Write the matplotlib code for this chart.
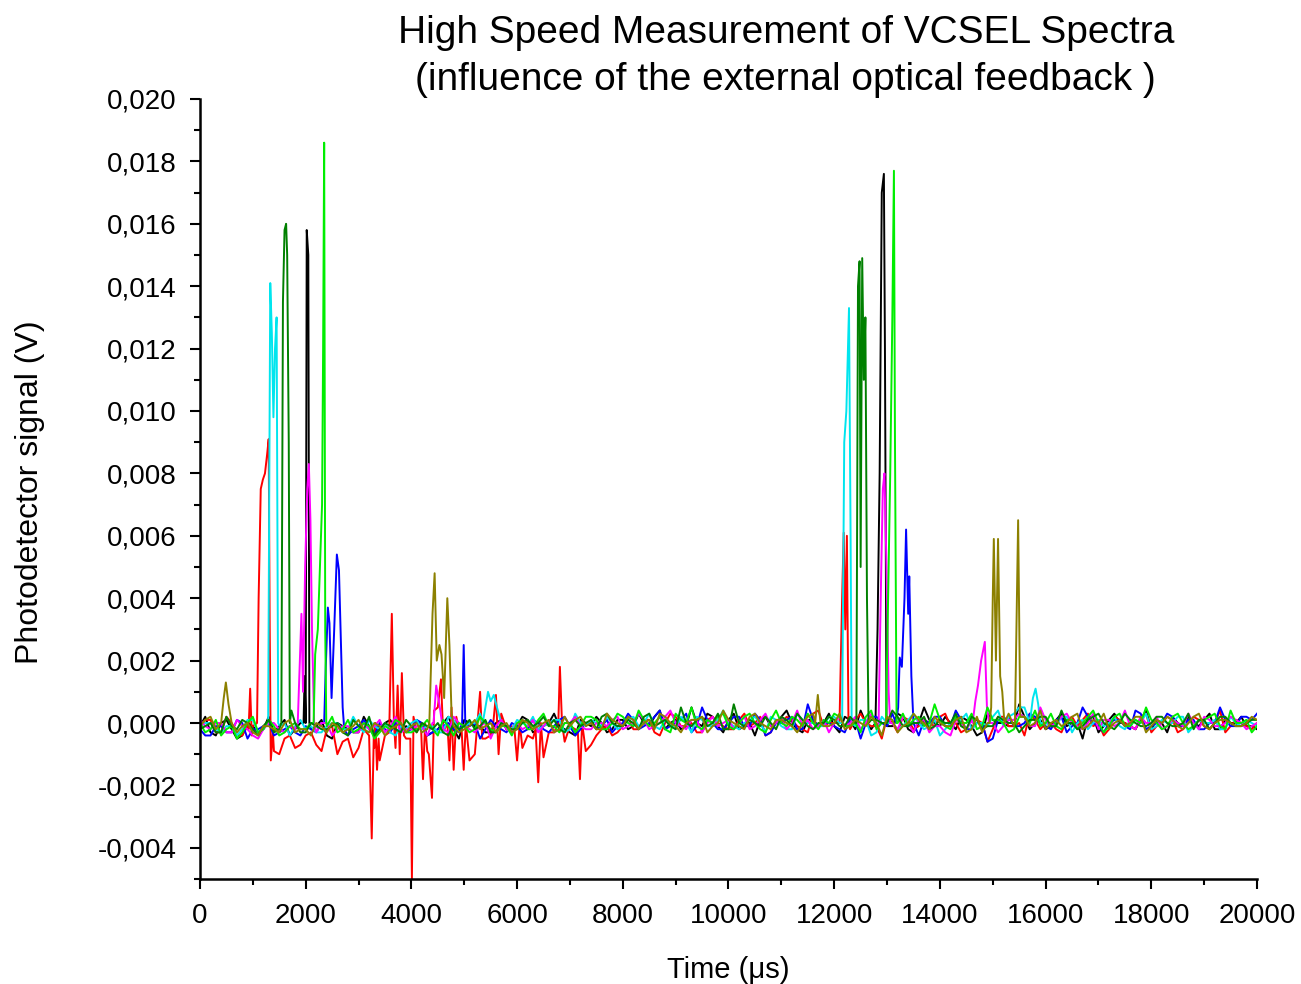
import numpy as np
import matplotlib.pyplot as plt
from matplotlib.ticker import MultipleLocator, FuncFormatter

plt.rcParams['font.family'] = ['Liberation Sans', 'DejaVu Sans']

# baseline noise of each trace, 1e-4 V
# *_even: samples at 0, 200, ... 20000 us ; *_odd: samples at 100, 300, ... 19900 us
black_even = [-1, -3, 0, -2, -4, -1, -2, -3, 1, -2,
              -3, -1, -4, 0, -2, -3, -1, -2, 1, -3,
              -2, -1, -3, 0, -2, 1, -1, -3, 0, -2,
              -1, 1, -2, 0, -1, -3, 1, -1, 0, -2,
              1, -1, 0, 2, -2, 1, -1, 0, 3, -1,
              1, -2, 0, 1, -1, 2, 0, -3, 1, 0,
              -1, 2, -2, 0, 1, -1, 3, -2, 0, 1,
              -1, 0, 2, -1, -3, 1, 0, -1, 2, 0,
              -2, 1, -1, 0, 2, -3, 1, 0, -1, 1,
              -2, 0, 2, -1, 0, 1, -2, 1, 0, -1,
              -2]
black_odd = [2, -4, 1, -5, 0, -3, 2, -1, -4, 0,
             -2, 1, -5, -1, -3, 2, -4, 0, -2, -1,
             1, -4, -2, 2, -5, 0, -1, -3, 1, -2,
             2, -3, -1, 3, -2, -4, 0, 2, -3, 1,
             -2, 3, -1, 4, 0, -2, 5, -1, 2, -3,
             3, -1, -4, 2, 0, 4, -2, 1, -1, 3,
             -3, 1, 4, -2, 0, -1, 2, -3, 5, 0,
             2, -2, 1, -4, 3, 0, -1, 6, -2, 1,
             -1, 3, 0, -5, 2, -1, 3, 0, -2, 4,
             1, -3, 0, 2, -1, 3, -2, 0, 2, -1]
red_even = [-2, 1, -3, 0, -4, -1,
            -3, -9, -5, -8, -4,
            -7, -2, -10, -5, -8, -3, -12, -6, -9, -4,
            -11, -6, -14, -8, -3, -10, -5, -7, -2, -9,
            -4, -8, -3, -6, -1, -5, -7, -2, -4, -1,
            -2, 1, -3, 0, 2, -1, -3, 1, 0, -2,
            1, -1, 2, -3, 0, 1, -2, 3, -1, 0,
            -2, 1, 0, -1, 2, -3, 1, -1, 0, 2,
            -1, -3, 1, 0, -2, 2, -1, -4, 1, 0,
            -2, 1, -1, 3, 0, -2, 1, -1, 2, -3,
            0, 1, -2, 2, -1, 0, -3, 1, -1, 0]
red_odd = [1, -3, 2, -4, -1, -6, -2, -10, -4, -7,
           -3, -9, -1, -6, -11, -2, -8, -4, -13, -5,
           -3, -9, -16, -6, -2, -12, -7, -4, -10, -1,
           -8, -5, -11, -3, -6, -2, -9, -4, -1, -3,
           2, -2, 1, -4, 3, -1, 0, -3, 2, -1,
           -2, 3, 0, -4, 1, 2, -1, -3, 4, 0,
           1, -2, 3, -1, -5, 0, 2, -2, 1, -1,
           3, 0, -2, 1, -6, 2, -1, 0, 3, -2,
           0, -3, 2, 1, -1, -4, 2, 0, -2, 3,
           -1, 2, -3, 0, 1, -2, 4, -1, 0, -2]
lime_even = [0, -2, -4, -1, -3, 2, -2, -1, -3, 0,
             -2, -4, -1, -3, 1, -2, -1, -3, -2, 0,
             -3, -1, -2, 1, -4, -1, -2, 0, -3, -1,
             0, -2, 1, -1, -3, 0, -1, 2, -2, 0,
             2, -1, 1, 0, -2, 3, 0, -1, 1, 2,
             -1, 0, 3, -2, 1, 0, 2, -1, 0, 1,
             3, -1, 0, 2, -2, 1, 0, -1, 2, 0,
             1, -2, 0, 3, -1, 1, 0, -2, 2, 4,
             0, -1, 1, -2, 2, 0, -1, 3, -1, 0,
             1, -2, 2, 0, -1, 1, 3, -2, 0, 1,
             -1]
lime_odd = [-3, 1, -2, -5, 0, -3, 1, -4, -1, -2,
            0, -4, 2, -2, -3, 0, -5, -1, 1, -3,
            -2, 1, -4, -1, 0, -3, 2, -2, -1, -4,
            1, -2, 3, -1, 0, -3, 2, 1, -2, 3,
            0, 4, -1, 2, -3, 1, 5, -2, 0, 3,
            -2, 2, 0, -3, 4, -1, 1, 3, -2, 0,
            2, -1, -3, 4, 0, -2, 3, 1, -1, 6,
            -1, 2, 0, -2, 5, 1, -3, 2, 0, -1,
            3, -2, 1, 0, 4, -3, 2, -1, 1, 5,
            0, -1, 3, -2, 1, 2, -1, 4, 0, -3]
blue_even = [-2, -4, -1, -3, 0, -2, -1, -4, -2, -3,
             -1, -3, 0, -2, -4, -1, -2, 0, -3, -1,
             -2, 0, -3, -1, -2, -4, 0, -2, -1, -3,
             -1, -2, 0, -3, 1, -1, -2, 0, -1, -3,
             0, 1, -1, 2, -2, 0, 3, -1, 1, -2,
             0, 2, -1, 1, -3, 0, 2, -2, 1, 0,
             -1, -3, 1, 0, 2, -1, -2, 1, -4, 0,
             2, -1, 1, -2, 0, -5, 1, -1, 0, 2,
             -1, 1, -3, 0, 2, -1, 0, 1, -2, 3,
             -1, 0, 2, -1, 1, -2, 0, 1, -1, 2,
             3]
blue_odd = [-4, -1, -3, 1, -5, -2, 0, -3, -1, -4,
            -2, 0, -5, -1, -2, 1, -4, -2, 0, -3,
            1, -4, -2, 0, -3, -1, -5, 1, -2, 0,
            -3, 1, -2, -1, 2, -4, 0, -2, 1, -1,
            3, -2, 0, 4, -1, 1, -3, 5, 0, -2,
            2, -1, 3, -4, 0, 1, -2, 6, -1, 0,
            -2, 1, -5, 2, 0, 3, -1, -3, 1, 2,
            -1, 4, -2, 0, -6, 1, 2, -1, 3, 0,
            -2, 2, -1, 5, 0, -3, 1, -1, 4, -2,
            0, 3, -1, 1, -2, 0, 5, -1, 2, 1]
cyan_even = [-1, 0, -3, -1, -2, 1, -2, -3, 0, -1,
             -2, -3, -1, 0, -2, -1, 1, -2, -3, -1,
             0, -2, -1, -3, 1, -1, 0, -2, 2, -1,
             1, -1, -2, 0, 1, -2, 0, 1, -1, 0,
             -1, 2, 0, -1, 1, -2, 0, 2, -1, 1,
             0, -2, 1, 0, 2, -1, -2, 1, 0, -1,
             2, 0, -1, 1, -3, 0, -2, 1, 0, -1,
             -4, 0, 1, -2, 0, 2, -1, 3, 5, 2,
             0, -1, 2, 0, -2, 1, 0, -1, 1, 0,
             -2, 1, 0, 2, -1, 0, 1, -2, 0, 1,
             -1]
cyan_odd = [0, -2, -1, -4, 1, -3, 0, -2, -4, 1,
            -1, -3, 0, -2, 2, -3, -1, 0, -4, -2,
            1, -1, -3, 2, -2, 0, 3, -1, 1, -2,
            0, 2, -1, 1, -3, 3, -1, 0, 2, -2,
            1, -1, 3, -2, 0, 2, -3, 1, -1, 4,
            -1, 0, 2, -3, 1, -2, 3, 0, -1, 2,
            0, -2, 1, -4, 2, 0, -1, 3, -2, 1,
            -2, 1, 3, 0, -1, 4, 2, 5, 3, 1,
            -1, 2, -3, 1, 0, -1, 2, -2, 1, 3,
            -1, 0, 2, -3, 1, 0, -2, 2, -1, 0]
magenta_even = [1, -2, 0, -3, -1, -4, -2, 0, -3, -2,
                -1, -3, 0, -2, -1, -3, -2, 1, -1, -3,
                -2, -1, 0, -2, 2, -1, -3, 0, -1, -2,
                0, -1, -3, 1, -2, 0, -1, -2, 0, 1,
                -2, 0, 1, -1, 2, 0, -2, 1, 0, -1,
                1, 0, -2, 1, -1, 2, 0, -1, -2, 1,
                0, -1, 2, 0, -1, 1, -2, 0, 1, -3,
                -1, -4, 0, 1, -2, 0, -1, 1, 2, -1,
                1, 0, 3, -1, 0, -2, 1, 0, -1, 2,
                0, -2, 1, -1, 0, 2, -1, 0, 1, -2,
                0]
magenta_odd = [-1, 0, -3, 1, -2, -5, 0, -2, -1, -4,
               -2, 0, -4, -1, -3, 0, -1, -3, 2, -2,
               -1, -4, 1, -3, 0, -2, -1, -5, 1, -3,
               -2, 1, -1, -3, 0, 2, -2, 0, -1, 2,
               -1, 3, -2, 0, 4, -1, 1, -3, 2, 0,
               -2, 2, -1, 3, 0, -2, 4, 1, -1, -3,
               2, 0, -2, 3, -1, 0, 2, -3, 1, -1,
               -3, 1, -2, 2, 0, -3, 1, 3, -1, 5,
               -1, 2, 0, -2, 3, 1, -1, 4, -2, 0,
               2, -1, 0, 3, -2, 1, -1, 2, 0, -1]
olive_even = [-1, 2, -2, 0, -1, -3, -1, -2, 0, -3,
              -2, 0, -3, -1, -2, 1, -3, -1, -2, 0,
              -1, -3, 0, -2, -1, -2, 1, -1, -3, 0,
              -2, 0, -1, 1, -2, -1, 2, 0, -2, 1,
              -1, 1, 0, -2, 2, -1, 0, 1, -3, 0,
              1, -1, 2, 0, -2, 1, -1, 0, 3, -1,
              0, -2, 1, -1, 0, 2, -3, 0, 1, -2,
              0, -1, 2, -2, -3, 0, 1, -1, 2, 0,
              -2, 1, 0, 3, -1, 0, -2, 1, 0, 2,
              -1, 0, 1, -2, 2, -1, 0, 1, -1, 0,
              1]
olive_odd = [1, -2, 4, -3, 0, -4, -1, -3, 1, -2,
             -4, -1, 0, -3, -1, -2, 0, -4, -1, -3,
             0, -2, -4, 1, -3, -1, -2, 0, -1, -3,
             1, -2, 0, -3, 2, 1, -1, -2, 3, 0,
             2, -2, 1, 3, 0, -3, 1, 2, -1, 4,
             0, -2, 3, -1, 1, 0, -3, 2, 1, -1,
             3, -1, 0, 2, -4, 1, -1, 3, 0, 2,
             -1, 1, -3, 2, 0, -2, 3, 1, -1, 4,
             0, -1, 2, -2, 1, 3, 0, -1, 2, -3,
             1, 2, -1, 0, 3, -2, 1, 0, -1, 2]
dkgreen_even = [-2, 0, -3, -1, 1, -2, -1, -3, -2, 0,
                -3, -1, -2, 0, -4, -1, 2, -2, -1, -3,
                -1, 0, -2, -3, 0, -1, -2, 1, -3, -1,
                -2, 1, 0, -1, -2, 0, -1, 1, 2, 0,
                -1, 0, 2, -1, 1, -2, 0, 1, -1, 3,
                -2, 0, 1, -1, 0, 2, -1, 1, -2, 0,
                1, -1, 0, -2, 1, 0, 2, -1, 0, -2,
                1, 0, -1, 2, -2, -1, 1, 0, -1, 1,
                2, -1, 0, -2, 1, 3, -1, 0, 1, -1,
                0, 2, -1, 0, -2, 1, 0, 2, -1, 0,
                1]
dkgreen_odd = [-1, -3, 2, -2, 0, -4, 1, -2, -1, -3,
               0, -2, -1, -3, 1, -2, -4, 0, -2, 1,
               -3, -1, 0, -4, -2, 1, -1, -3, 0, -2,
               0, -1, 2, 1, -3, 1, 0, -2, 3, -1,
               1, -2, 3, 0, -1, 5, -1, 2, 0, -2,
               6, -1, 0, 2, -2, 1, 3, -1, 0, 2,
               -1, 2, -3, 1, 0, 4, -1, 0, 2, -1,
               0, 3, -2, 1, -1, 2, 0, -3, 1, 2,
               -1, 4, 0, -1, 2, 0, -2, 3, 0, -1,
               2, 0, -1, 3, 1, -2, 2, 0, -1, 1]

# peaks and spikes of each trace: (time us, signal V)
ev_black = [
    [(1960, 0.0), (1980, 0.0015), (2000, 0.0), (2020, 0.0158), (2050, 0.0150), (2070, 0.0), (2100, -0.0002)],
    [(12780, 0.0), (12820, 0.0030), (12860, 0.0080), (12900, 0.0170), (12940, 0.0176), (12960, 0.0120), (12990, 0.0)],
]
ev_red = [
    [(920, -0.0002), (950, 0.0011), (980, -0.0004)],
    [(1080, 0.0), (1110, 0.0040), (1150, 0.0075), (1190, 0.0078), (1230, 0.0080), (1270, 0.0086),
     (1300, 0.0091), (1320, 0.0030), (1340, -0.0012), (1380, -0.0003)],
    [(3200, -0.0004), (3250, -0.0037), (3290, -0.0003)],
    [(3320, 0.0), (3350, -0.0015), (3380, -0.0005)],
    [(3580, -0.0003), (3630, 0.0035), (3670, 0.0)],
    [(3700, -0.0008), (3740, 0.0012), (3780, -0.0010), (3820, 0.0016), (3860, -0.0004)],
    [(3980, -0.0005), (4010, -0.0050), (4040, 0.0002)],
    [(4180, 0.0), (4220, -0.0018), (4260, 0.0)],
    [(4330, -0.0010), (4390, -0.0024), (4430, 0.0004)],
    [(4500, 0.0005), (4560, 0.0014), (4600, -0.0003)],
    [(4680, 0.0), (4720, -0.0012), (4760, 0.0005), (4800, -0.0015), (4850, 0.0002)],
    [(4950, -0.0002), (4990, -0.0015), (5030, 0.0)],
    [(5250, 0.0), (5300, 0.0010), (5340, -0.0005)],
    [(5550, 0.0), (5600, 0.0009), (5650, -0.0010), (5700, 0.0003)],
    [(5950, -0.0002), (6000, -0.0012), (6050, 0.0)],
    [(6350, -0.0002), (6400, -0.0019), (6450, 0.0)],
    [(6780, 0.0), (6810, 0.0018), (6850, 0.0)],
    [(7150, -0.0003), (7190, -0.0018), (7230, 0.0)],
    [(12100, 0.0), (12150, 0.0040), (12180, 0.0061), (12210, 0.0030), (12240, 0.0060), (12270, 0.0), (12300, -0.0002)],
]
ev_lime = [
    [(2150, 0.0), (2180, 0.0022), (2230, 0.0030), (2270, 0.0050), (2310, 0.0070), (2330, 0.0120),
     (2350, 0.0186), (2370, 0.0030), (2390, 0.0)],
    [(12980, 0.0), (13020, 0.0040), (13060, 0.0080), (13100, 0.0130), (13130, 0.0177), (13150, 0.0090), (13180, 0.0)],
]
ev_blue = [
    [(2350, 0.0), (2380, 0.0018), (2420, 0.0037), (2450, 0.0032), (2490, 0.0008), (2540, 0.0030),
     (2590, 0.0054), (2630, 0.0049), (2660, 0.0030), (2700, 0.0005), (2730, -0.0002)],
    [(4960, 0.0), (4990, 0.0025), (5020, 0.0)],
    [(13170, 0.0), (13210, 0.0005), (13240, 0.0021), (13280, 0.0018), (13330, 0.0040), (13360, 0.0062),
     (13400, 0.0035), (13420, 0.0047), (13460, 0.0015), (13500, 0.0)],
]
ev_cyan = [
    [(1290, 0.0), (1330, 0.0141), (1360, 0.0125), (1390, 0.0098), (1420, 0.0120), (1450, 0.0130),
     (1480, 0.0), (1510, -0.0001)],
    [(5350, 0.0), (5450, 0.0010), (5500, 0.0007), (5560, 0.0009), (5620, 0.0005), (5700, 0.0)],
    [(12150, 0.0), (12190, 0.0090), (12230, 0.0100), (12280, 0.0133), (12310, 0.0060), (12330, 0.0)],
    [(15700, 0.0), (15760, 0.0008), (15810, 0.0011), (15860, 0.0006), (15900, 0.0)],
]
ev_magenta = [
    [(1850, 0.0), (1880, 0.0015), (1920, 0.0035), (1950, 0.0010), (1990, 0.0050), (2030, 0.0075),
     (2060, 0.0083), (2090, 0.0065), (2120, 0.0030), (2160, 0.0)],
    [(4420, 0.0), (4470, 0.0012), (4530, 0.0006), (4580, 0.0)],
    [(12840, 0.0), (12880, 0.0040), (12920, 0.0075), (12950, 0.0080), (12990, 0.0050), (13030, 0.0010), (13060, 0.0)],
    [(14620, 0.0), (14670, 0.0007), (14720, 0.0012), (14780, 0.0020), (14850, 0.0026), (14890, 0.0005), (14930, 0.0)],
]
ev_olive = [
    [(400, 0.0), (450, 0.0008), (490, 0.0013), (540, 0.0006), (600, 0.0)],
    [(4340, 0.0), (4400, 0.0035), (4440, 0.0048), (4480, 0.0020), (4530, 0.0025), (4570, 0.0022),
     (4620, 0.0008), (4680, 0.0040), (4720, 0.0025), (4760, 0.0003)],
    [(11640, 0.0), (11690, 0.0009), (11740, 0.0)],
    [(14940, 0.0), (14970, 0.0005), (15000, 0.0040), (15020, 0.0059), (15060, 0.0020), (15100, 0.0059),
     (15140, 0.0015), (15180, 0.0010), (15220, 0.0)],
    [(15420, 0.0), (15480, 0.0065), (15520, 0.0002)],
]
ev_dkgreen = [
    [(1540, 0.0), (1570, 0.0135), (1600, 0.0158), (1630, 0.0160), (1650, 0.0150), (1680, 0.0090),
     (1700, 0.0), (1730, 0.0004)],
    [(12420, 0.0), (12450, 0.0140), (12480, 0.0148), (12500, 0.0050), (12530, 0.0149), (12560, 0.0110),
     (12590, 0.0130), (12620, 0.0040), (12650, 0.0)],
]

traces = [
    (black_even, black_odd, ev_black, 'black'),
    (red_even, red_odd, ev_red, '#ff0000'),
    (blue_even, blue_odd, ev_blue, '#0000ff'),
    (cyan_even, cyan_odd, ev_cyan, '#00e5ee'),
    (magenta_even, magenta_odd, ev_magenta, '#ff00ff'),
    (lime_even, lime_odd, ev_lime, '#00ee00'),
    (dkgreen_even, dkgreen_odd, ev_dkgreen, '#008000'),
    (olive_even, olive_odd, ev_olive, '#8c8000'),
]


def build(even, odd, events):
    t = np.arange(0, 20001, 100).astype(float)
    v = np.empty(len(t))
    v[0::2] = np.array(even) * 1e-4
    v[1::2] = np.array(odd) * 1e-4
    keep = np.ones(len(t), bool)
    for grp in events:
        keep &= ~((t >= grp[0][0]) & (t <= grp[-1][0]))
    t, v = list(t[keep]), list(v[keep])
    for grp in events:
        for a, b in grp:
            t.append(a)
            v.append(b)
    order = np.argsort(t)
    return np.array(t)[order], np.array(v)[order]


fig = plt.figure(figsize=(13.01, 9.84), dpi=100)
ax = fig.add_axes([0.1537, 0.1067, 0.8125, 0.7927])

for even, odd, events, col in traces:
    tt, vv = build(even, odd, events)
    ax.plot(tt, vv, color=col, lw=1.4)

ax.set_xlim(0, 20000)
ax.set_ylim(-0.005, 0.020)
ax.xaxis.set_major_locator(MultipleLocator(2000))
ax.xaxis.set_minor_locator(MultipleLocator(1000))
ax.yaxis.set_major_locator(MultipleLocator(0.002))
ax.yaxis.set_minor_locator(MultipleLocator(0.001))
ax.yaxis.set_major_formatter(FuncFormatter(lambda v, p: ('%.3f' % v).replace('.', ',').replace('-0,000', '0,000')))
ax.xaxis.set_major_formatter(FuncFormatter(lambda v, p: '%d' % v))

for s in ['top', 'right']:
    ax.spines[s].set_visible(False)
for s in ['left', 'bottom']:
    ax.spines[s].set_linewidth(1.8)
ax.tick_params(which='major', length=7, width=1.5, labelsize=20, pad=10)
ax.tick_params(which='minor', length=4.5, width=1.5)

ax.set_xlabel('Time (μs)', fontsize=21, labelpad=20)
ax.set_ylabel('Photodetector signal (V)', fontsize=23)
ax.yaxis.set_label_coords(-0.147, 0.496)
fig.text(0.604, 0.9426, 'High Speed Measurement of VCSEL Spectra\n(influence of the external optical feedback )',
         ha='center', va='center', fontsize=28, linespacing=1.41)

fig.savefig('out.png', dpi=100)
